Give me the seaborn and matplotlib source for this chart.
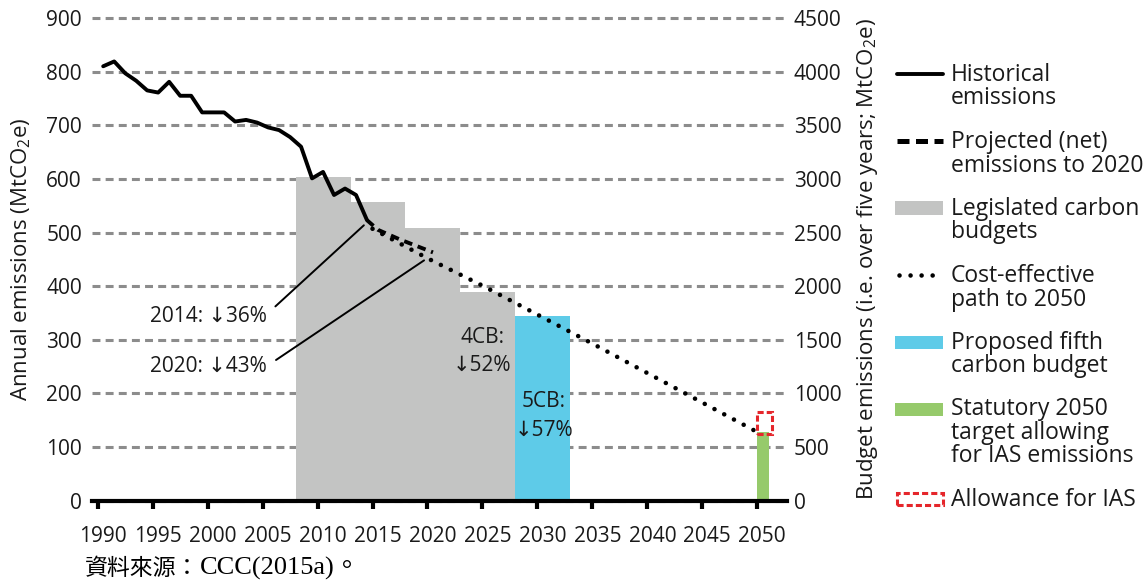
#--Import libraries--#
import numpy as np
import seaborn as sns
import matplotlib.pyplot as plt
import matplotlib.transforms as mtransforms
from matplotlib.lines import Line2D
from matplotlib.patches import Rectangle

#--Data--#
hist_years = list(range(1990, 2015))
hist_emissions = [810, 819, 797, 783, 765, 761, 781, 755, 755, 724, 724, 724, 707,
                  710, 705, 696, 691, 678, 660, 601, 613, 570, 582, 570, 523]

proj_years = [2014, 2015, 2016, 2017, 2018, 2019, 2020]
proj_emissions = [523, 505, 496, 487, 479, 471, 463]

path_years = [2015, 2020, 2025, 2030, 2035, 2040, 2045, 2050]
path_emissions = [507, 452, 401, 347, 293, 238, 183, 128]

budget_start = [2008, 2013, 2018, 2023]
budget_totals = [3018, 2782, 2544, 1950]      # MtCO2e over five years
fifth_start = 2028
fifth_total = 1725

target_year = 2050
target_excl_ias = 128
ias_range = [125, 165]

x_ticks = list(range(1990, 2051, 5))
left_ticks = list(range(0, 901, 100))
right_ticks = list(range(0, 4501, 500))

legend_labels = ['Historical\nemissions',
                 'Projected (net)\nemissions to 2020',
                 'Legislated carbon\nbudgets',
                 'Cost-effective\npath to 2050',
                 'Proposed fifth\ncarbon budget',
                 'Statutory 2050\ntarget allowing\nfor IAS emissions',
                 'Allowance for IAS']

#--Style--#
GREY = '#c3c4c3'
CYAN = '#5ecbe8'
GREEN = '#96ca6b'
RED = '#e5262b'
GRID = '#8c8c8c'
TXT = '#1a1a1a'

sns.set_theme(style='white')
plt.rcParams['font.family'] = ['Open Sans', 'DejaVu Sans']
plt.rcParams['mathtext.fontset'] = 'custom'
plt.rcParams['mathtext.rm'] = 'Open Sans'
plt.rcParams['mathtext.default'] = 'rm'
plt.rcParams['text.color'] = TXT

W, H = 1147, 585
fig = plt.figure(figsize=(W / 100, H / 100), dpi=100)
ax = fig.add_axes([91.7 / W, 1 - 500.7 / H, 695 / W, 482.7 / H])
ax2 = ax.twinx()

#--Bars--#
ax.bar(budget_start, np.array(budget_totals) / 5, width=5, align='edge',
       color=GREY, linewidth=0, zorder=2)
ax.bar(fifth_start, fifth_total / 5, width=5, align='edge',
       color=CYAN, linewidth=0, zorder=2)
ax.bar(target_year, target_excl_ias, width=1.1, align='edge',
       color=GREEN, linewidth=0, zorder=2)
ax.add_patch(Rectangle((target_year, ias_range[0]), 1.3, ias_range[1] - ias_range[0],
                       fill=False, edgecolor=RED, lw=2.2, linestyle=(0, (2.0, 1.0)), zorder=6))

#--Lines--#
sns.lineplot(x=np.array(hist_years) + 0.5, y=hist_emissions, ax=ax,
             color='black', lw=2.8, zorder=5)
sns.lineplot(x=np.array(proj_years) + 0.5, y=proj_emissions, ax=ax,
             color='black', lw=2.8, linestyle=(0, (2.2, 1.5)), zorder=5)
sns.lineplot(x=path_years, y=path_emissions, ax=ax, color='black', lw=3.3,
             linestyle=(0, (0.01, 2.4)), dash_capstyle='round', zorder=5)

#--Annotations--#
ax.annotate('2014: ↓36%', xy=(2014.4, 517), xytext=(2005.4, 344),
            ha='right', va='center', fontsize=15,
            arrowprops=dict(arrowstyle='-', lw=1.4, color='black',
                            relpos=(1, 0.6), shrinkA=5, shrinkB=2))
ax.annotate('2020: ↓43%', xy=(2019.9, 451), xytext=(2005.4, 251),
            ha='right', va='center', fontsize=15,
            arrowprops=dict(arrowstyle='-', lw=1.4, color='black',
                            relpos=(1, 0.5), shrinkA=5, shrinkB=2))
ax.text(2025.0, 278, '4CB:\n↓52%', ha='center', va='center', fontsize=15, linespacing=1.45)
ax.text(2030.6, 158, '5CB:\n↓57%', ha='center', va='center', fontsize=15, linespacing=1.45)

#--Axes--#
ax.set_xlim(1989.454, 2052.68)
ax.set_ylim(0, 900)
ax.set_xticks(x_ticks)
ax.set_yticks(left_ticks)
ax.yaxis.grid(True, color=GRID, lw=2.2, linestyle=(0, (2.6, 1.7)))
ax.set_axisbelow(True)
for gl in ax.get_ygridlines():
    gl.set_clip_on(False)
ax.tick_params(axis='x', bottom=True, length=6, width=3, color='black',
               pad=12.5, labelsize=15, labelcolor=TXT)
ax.tick_params(axis='y', left=False, length=0, pad=7, labelsize=15, labelcolor=TXT)
sns.despine(ax=ax, left=True, right=True, top=True)
ax.spines['bottom'].set_linewidth(3)
ax.spines['bottom'].set_color('black')

ax2.set_ylim(0, 4500)
ax2.set_yticks(right_ticks)
ax2.grid(False)
ax2.tick_params(axis='y', right=False, length=0, pad=5, labelsize=15, labelcolor=TXT)
for s in ax2.spines.values():
    s.set_visible(False)

ax.set_xlabel('')
ax.set_ylabel('Annual emissions (MtCO$_2$e)', fontsize=16, color=TXT)
ax.yaxis.set_label_coords(-0.0845, 0.5)
ax2.set_ylabel('Budget emissions (i.e. over five years; MtCO$_2$e)', fontsize=16, color=TXT)
ax2.yaxis.set_label_coords(1.098, 0.5)

shift = mtransforms.ScaledTranslation(5 / 100, 0, fig.dpi_scale_trans)
for lbl in ax.get_xticklabels():
    lbl.set_transform(lbl.get_transform() + shift)

#--Legend (handle level with first text line)--#
def fx(px):
    return px / W

def fy(py):
    return 1 - py / H

LINE_H = 22.5
y = 74
for i, label in enumerate(legend_labels):
    if i == 0:
        fig.add_artist(Line2D([fx(897), fx(943)], [fy(y), fy(y)], color='black', lw=2.8))
    elif i == 1:
        fig.add_artist(Line2D([fx(897), fx(943)], [fy(y), fy(y)], color='black', lw=3.6,
                              linestyle=(0, (2.4, 1.3))))
    elif i == 3:
        fig.add_artist(Line2D([fx(899), fx(936)], [fy(y), fy(y)], color='black', lw=3.3,
                              linestyle=(0, (0.01, 2.4)), dash_capstyle='round'))
    elif i == 6:
        fig.add_artist(Rectangle((fx(897), fy(y + 6)), fx(943) - fx(897), fy(y - 6) - fy(y + 6),
                                 transform=fig.transFigure, fill=False, edgecolor=RED,
                                 lw=2.2, linestyle=(0, (2.0, 1.0))))
    else:
        color = {2: GREY, 4: CYAN, 5: GREEN}[i]
        fig.add_artist(Rectangle((fx(895), fy(y + 6.5)), fx(943) - fx(895), fy(y - 6.5) - fy(y + 6.5),
                                 transform=fig.transFigure, color=color, lw=0))
    n_extra = label.count('\n')
    # baseline alignment is on the last line of a multi-line text
    fig.text(fx(951), fy(y + 8 + n_extra * LINE_H), label, ha='left', va='baseline',
             fontsize=16.5, linespacing=0.96, color=TXT)
    y += n_extra * LINE_H + LINE_H + 22

#--Source note (CJK part and Latin part share one baseline)--#
src_font = ['Liberation Serif', 'Noto Sans CJK TC']
fig.text(fx(85), fy(575), '資料來源：', ha='left', va='baseline', fontsize=16.5,
         family=src_font, color='black')
fig.text(fx(200), fy(575), 'CCC(2015a)。', ha='left', va='baseline', fontsize=19,
         family=src_font, color='black')

fig.savefig('out.png', dpi=100)
